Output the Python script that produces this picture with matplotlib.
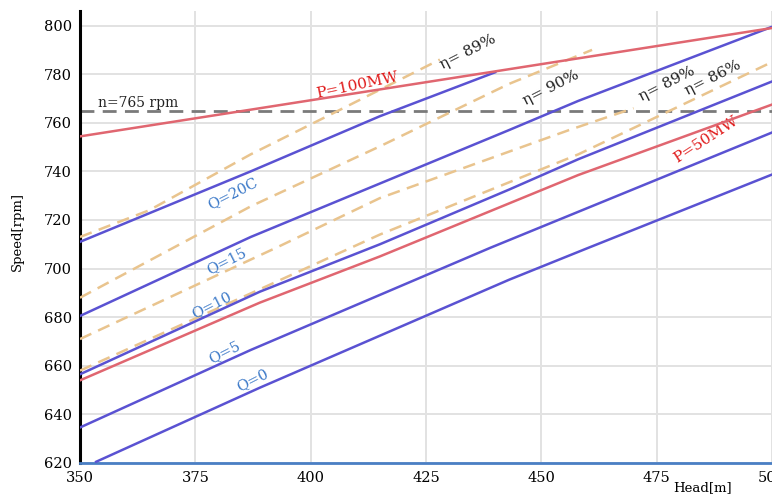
import matplotlib
matplotlib.use("Agg")
import matplotlib.pyplot as plt

# Constant-discharge lines (head [m], speed [rpm])
q0_head = [353.5, 389, 443, 460, 500]
q0_speed = [620.5, 651, 695.4, 708.4, 738.7]
q5_head = [350, 387, 439, 500]
q5_speed = [634.6, 666.5, 708.6, 756]
q10_head = [350, 389, 415, 443, 458, 500]
q10_speed = [656.5, 690.5, 710, 732.5, 745, 777]
q15_head = [350, 387, 443, 458, 500]
q15_speed = [680.5, 713, 757, 769, 799.5]
q20_head = [350, 387, 415, 440]
q20_speed = [711, 740, 762.7, 780.8]

# Constant-power lines
p100_head = [350, 500]
p100_speed = [754.4, 799]
p50_head = [350, 389, 415, 458, 500]
p50_speed = [654, 686, 705, 738.5, 767.5]

# Efficiency contours
eta89a_head = [350, 365, 387, 406, 428]
eta89a_speed = [713, 724, 747, 765, 786]
eta90_head = [350, 387, 415, 443, 461]
eta90_speed = [688, 725.6, 750.3, 776, 790]
eta89b_head = [350, 393, 415, 456, 470]
eta89b_speed = [671, 709, 729, 757, 766]
eta86_head = [350, 389, 415, 458, 500]
eta86_speed = [658, 691.5, 714, 747, 785]

rated_speed = 765

x_ticks = [350, 375, 400, 425, 450, 475, 500]
y_ticks = [620, 640, 660, 680, 700, 720, 740, 760, 780, 800]

plt.rcParams["font.family"] = ["DejaVu Serif"]

fig = plt.figure(figsize=(7.72, 4.98), dpi=100)
ax = fig.add_axes([0.1036, 0.0703, 0.8964, 0.9076])
ax.set_xlim(350, 500)
ax.set_ylim(620, 806)

ax.set_xticks(x_ticks)
ax.set_yticks(y_ticks)
ax.grid(True, color="#e2e2e2", linewidth=1.4)
ax.set_axisbelow(True)
ax.tick_params(length=0, labelsize=10.5, pad=6)

for side in ("top", "right"):
    ax.spines[side].set_visible(False)
ax.spines["left"].set_color("black")
ax.spines["left"].set_linewidth(2.2)
ax.spines["bottom"].set_color("#4a7fc4")
ax.spines["bottom"].set_linewidth(2.0)

blue = "#5a52d2"
red = "#e06670"
tan = "#e9c48e"

ax.axhline(rated_speed, color="#7a7a7a", linestyle=(0, (5, 3)), linewidth=2.0, zorder=2)

eta_lines = [(eta89a_head, eta89a_speed), (eta90_head, eta90_speed),
             (eta89b_head, eta89b_speed), (eta86_head, eta86_speed)]
for h, s in eta_lines:
    ax.plot(h, s, color=tan, linestyle=(0, (5, 3)), linewidth=1.8, zorder=3)

for h, s in [(q0_head, q0_speed), (q5_head, q5_speed), (q10_head, q10_speed),
             (q15_head, q15_speed), (q20_head, q20_speed)]:
    ax.plot(h, s, color=blue, linewidth=1.8, zorder=4)

ax.plot(p100_head, p100_speed, color=red, linewidth=1.8, zorder=4)
ax.plot(p50_head, p50_speed, color=red, linewidth=1.8, zorder=4)

qcol = "#3a78c8"
ax.text(383, 731, "Q=20C", color=qcol, fontsize=10.5, rotation=27, ha="center", va="center")
ax.text(381.8, 703, "Q=15", color=qcol, fontsize=10.5, rotation=27, ha="center", va="center")
ax.text(378.6, 685, "Q=10", color=qcol, fontsize=10.5, rotation=27, ha="center", va="center")
ax.text(381.4, 665.8, "Q=5", color=qcol, fontsize=10.5, rotation=27, ha="center", va="center")
ax.text(387.4, 654.3, "Q=0", color=qcol, fontsize=10.5, rotation=27, ha="center", va="center")

ax.text(362.5, 768.3, "n=765 rpm", color="#222222", fontsize=10, ha="center", va="center")
ax.text(410, 775.3, "P=100MW", color="#e01818", fontsize=11, rotation=12, ha="center", va="center")
ax.text(485.6, 753, "P=50MW", color="#e01818", fontsize=11, rotation=33, ha="center", va="center")

ax.text(434, 789.3, "η= 89%", color="#222222", fontsize=11, rotation=27, ha="center", va="center")
ax.text(452.2, 774.5, "η= 90%", color="#222222", fontsize=11, rotation=27, ha="center", va="center")
ax.text(477.3, 776.1, "η= 89%", color="#222222", fontsize=11, rotation=27, ha="center", va="center")
ax.text(487.2, 778.6, "η= 86%", color="#222222", fontsize=11, rotation=27, ha="center", va="center")

fig.text(0.023, 0.535, "Speed[rpm]", rotation=90, fontsize=9.5, ha="center", va="center")
fig.text(0.91, 0.02, "Head[m]", fontsize=9.5, ha="center", va="center")

fig.savefig("out.png", dpi=100)
